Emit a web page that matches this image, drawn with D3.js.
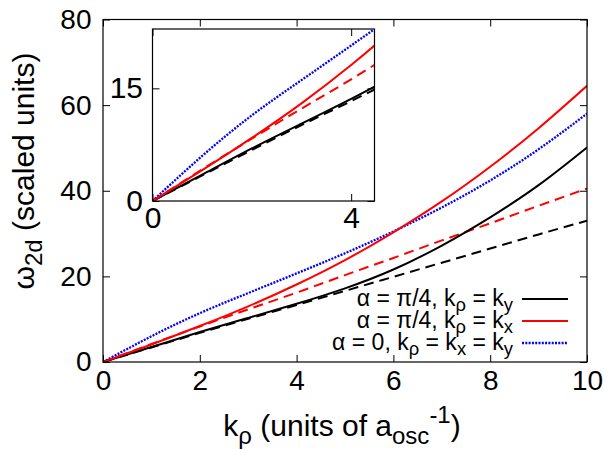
<!DOCTYPE html>
<html>
<head>
<meta charset="utf-8">
<script src="https://cdn.jsdelivr.net/npm/d3@7"></script>
<style>
  body { margin: 0; background: #fff; }
  svg text { font-family: "Liberation Sans", Arial, sans-serif; fill: #000; }
</style>
</head>
<body>
<div id="chart"></div>
<script>
// values
var kVals = [0, 1, 2, 3, 4, 5, 6, 7, 8, 9, 10];
var blackSolid = [0, 3.5, 7.0, 10.3, 13.6, 17.2, 21.6, 27.2, 33.8, 41.3, 50.1]; // alpha = pi/4, k_rho = k_y
var blackDashed = [0, 3.4, 6.8, 10.1, 13.3, 16.6, 19.9, 23.2, 26.5, 29.8, 33.0];
var redSolid = [0, 4.1, 8.4, 13.0, 18.1, 23.8, 30.3, 37.5, 45.6, 54.6, 64.5];   // alpha = pi/4, k_rho = k_x
var redDashed = [0, 4.2, 8.3, 12.3, 16.2, 20.3, 24.3, 28.4, 32.4, 36.5, 40.5];
var blueDotted = [0, 6.0, 11.4, 16.1, 20.7, 25.4, 30.5, 36.1, 42.4, 49.7, 58.0]; // alpha = 0

var xTicks = [0, 2, 4, 6, 8, 10];
var yTicks = [0, 20, 40, 60, 80];
var insetXTicks = [0, 4];
var insetYTicks = [0, 15];

var legendRows = [
	[{t: "\u03b1 = \u03c0/4, k"}, {t: "\u03c1", s: "sub"}, {t: " = k"}, {t: "y", s: "sub"}],
	[{t: "\u03b1 = \u03c0/4, k"}, {t: "\u03c1", s: "sub"}, {t: " = k"}, {t: "x", s: "sub"}],
	[{t: "\u03b1 = 0, k"}, {t: "\u03c1", s: "sub"}, {t: " = k"}, {t: "x", s: "sub"}, {t: " = k"}, {t: "y", s: "sub"}]
];

var W = 609, H = 449;
var TICK = 7;

var series = [
	{v: blackDashed, c: "#000", dash: "10,6", w: 2},
	{v: redDashed, c: "#ff0000", dash: "10,6", w: 2},
	{v: blackSolid, c: "#000", dash: null, w: 2},
	{v: blueDotted, c: "#0000ff", dash: "2,1.3", w: 2.3},
	{v: redSolid, c: "#ff0000", dash: null, w: 2}
];
var legendStyle = [series[2], series[4], series[3]];

var svg = d3.select("#chart").append("svg")
	.attr("width", W)
	.attr("height", H);

//writes text with gnuplot style sub/superscripts
function rich(sel, parts, fs, sub) {
	var shift = 0;
	sub = sub || 0.26;
	parts.forEach(function(p) {
		var target = p.s == "sub" ? fs * sub : (p.s == "sup" ? -fs * 0.42 : 0);
		sel.append("tspan")
			.attr("dy", target - shift)
			.style("font-size", (p.s ? fs * 0.8 : fs) + "px")
			.text(p.t);
		shift = target;
	});
}

//draws a framed panel with inward ticks on all sides
function panel(x, y, xt, yt, fs, xPad, yPad, id) {
	var g = svg.append("g");
	var x0 = x.range()[0], x1 = x.range()[1], y0 = y.range()[0], y1 = y.range()[1];

	g.append("rect")
		.attr("x", x0).attr("y", y1)
		.attr("width", x1 - x0).attr("height", y0 - y1)
		.attr("fill", "#fff");

	g.append("clipPath").attr("id", id)
		.append("rect")
		.attr("x", x0).attr("y", y1)
		.attr("width", x1 - x0).attr("height", y0 - y1);

	var line = d3.line()
		.x(function(d, i) { return x(kVals[i]); })
		.y(function(d) { return y(d); })
		.curve(d3.curveNatural);

	g.append("g").attr("clip-path", "url(#" + id + ")")
		.selectAll("path")
		.data(series)
		.enter().append("path")
		.attr("d", function(d) { return line(d.v); })
		.attr("fill", "none")
		.attr("stroke", function(d) { return d.c; })
		.attr("stroke-width", function(d) { return d.w; })
		.attr("stroke-dasharray", function(d) { return d.dash; });

	var fmt = d3.format("d");
	var bottom = g.append("g").attr("transform", "translate(0," + y0 + ")")
		.call(d3.axisBottom(x).tickValues(xt).tickFormat(fmt).tickSizeInner(-TICK).tickSizeOuter(0).tickPadding(xPad));
	var top = g.append("g").attr("transform", "translate(0," + y1 + ")")
		.call(d3.axisTop(x).tickValues(xt).tickSizeInner(-TICK).tickSizeOuter(0).tickFormat(""));
	var left = g.append("g").attr("transform", "translate(" + x0 + ",0)")
		.call(d3.axisLeft(y).tickValues(yt).tickFormat(fmt).tickSizeInner(-TICK).tickSizeOuter(0).tickPadding(yPad));
	var right = g.append("g").attr("transform", "translate(" + x1 + ",0)")
		.call(d3.axisRight(y).tickValues(yt).tickSizeInner(-TICK).tickSizeOuter(0).tickFormat(""));

	[bottom, top, left, right].forEach(function(a) {
		a.select(".domain").remove();
		a.selectAll("line").attr("stroke", "#000").attr("stroke-width", 1);
		a.selectAll("text")
			.style("font-family", "Liberation Sans, Arial, sans-serif")
			.style("font-size", fs + "px")
			.attr("fill", "#000");
	});

	g.append("rect")
		.attr("x", x0).attr("y", y1)
		.attr("width", x1 - x0).attr("height", y0 - y1)
		.attr("fill", "none")
		.attr("stroke", "#000")
		.attr("stroke-width", 1.2);
	return g;
}

// main plot
var x = d3.scaleLinear().domain([0, 10]).range([103, 587]);
var y = d3.scaleLinear().domain([0, 80]).range([362, 19.5]);
panel(x, y, xTicks, yTicks, 28, 8, 11.5, "clipMain");

// legend
var lg = svg.append("g");
legendRows.forEach(function(row, i) {
	var ly = 299 + i * 22;
	var t = lg.append("text")
		.attr("x", 513).attr("y", ly + 7)
		.attr("text-anchor", "end");
	rich(t, row, 23, 0.2);
	lg.append("line")
		.attr("x1", 522).attr("x2", 568)
		.attr("y1", ly).attr("y2", ly)
		.attr("stroke", legendStyle[i].c)
		.attr("stroke-width", legendStyle[i].w)
		.attr("stroke-dasharray", legendStyle[i].dash);
});

// axis titles
var xt = svg.append("text")
	.attr("x", 342).attr("y", 436)
	.attr("text-anchor", "middle");
rich(xt, [{t: "k"}, {t: "\u03c1", s: "sub"}, {t: " (units of a"}, {t: "osc", s: "sub"}, {t: "-1", s: "sup"}, {t: ")"}], 30);

var yt = svg.append("text")
	.attr("transform", "translate(34,171) rotate(-90)")
	.attr("text-anchor", "middle");
rich(yt, [{t: "\u03c9"}, {t: "2d", s: "sub"}, {t: " (scaled units)"}], 30);

// inset
var xi = d3.scaleLinear().domain([0, 4.47]).range([152.5, 374.5]);
var yi = d3.scaleLinear().domain([0, 22.9]).range([201, 29]);
panel(xi, yi, insetXTicks, insetYTicks, 30, 6, 9.5, "clipInset");
</script>
</body>
</html>
